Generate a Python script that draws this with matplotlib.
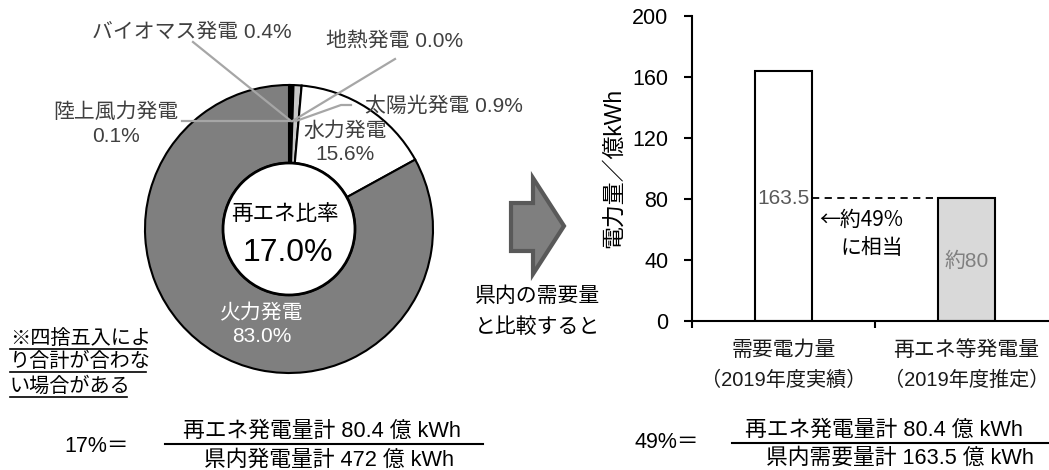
import numpy as np
import matplotlib
matplotlib.use('Agg')
import matplotlib.pyplot as plt
import matplotlib.transforms as mtransforms
from matplotlib.patches import Circle, Polygon

plt.rcParams['font.family'] = ['Liberation Sans', 'Noto Sans CJK JP', 'DejaVu Sans']

# data
pie_names = ['陸上風力発電', 'バイオマス発電', '地熱発電', '太陽光発電', '水力発電', '火力発電']
pie_values = [0.1, 0.4, 0.0, 0.9, 15.6, 83.0]
pie_colors = ['#1a1a1a', '#000000', '#404040', '#c8c8c8', '#ffffff', '#7f7f7f']
renew_share = 17.0

bar_names = ['需要電力量', '再エネ等発電量']
bar_notes = ['（2019年度実績）', '（2019年度推定）']
bar_values = [163.5, 80.4]
bar_colors = ['#ffffff', '#d9d9d9']
bar_texts = ['163.5', '約80']
yticks = [0, 40, 80, 120, 160, 200]

W, H = 1049, 470
fig = plt.figure(figsize=(W / 100, H / 100), dpi=100)

# ---- donut (pixel units) ----
cx, cy, R, r_in = 289, 229, 144, 66
pax = fig.add_axes([(cx - 150) / W, 1 - (cy + 150) / H, 300 / W, 300 / H], zorder=1)
pax.pie(pie_values, radius=R, startangle=90, counterclock=False, colors=pie_colors,
        wedgeprops=dict(width=R - r_in, edgecolor='black', linewidth=1.5))
pax.add_patch(Circle((0, 0), r_in, facecolor='white', edgecolor='black', linewidth=2, zorder=5))
pax.set_xlim(-150, 150)
pax.set_ylim(-150, 150)
pax.set_aspect('equal')
pax.axis('off')

# ---- bar chart ----
x0, x1, y0, y200 = 692, 1058, 321, 15.7
bax = fig.add_axes([x0 / W, 1 - y0 / H, (x1 - x0) / W, (y0 - y200) / H], zorder=2)
bw = 0.31
xs = np.arange(len(bar_values))
bax.bar(xs, bar_values, width=bw, color=bar_colors, edgecolor='black', linewidth=1.5)
bax.set_xlim(-0.5, 1.5)
bax.set_ylim(0, 200)
bax.set_yticks(yticks)
bax.set_xticks([-0.5, 0.5, 1.5])
bax.set_xticklabels([])
bax.tick_params(axis='x', length=5, width=1.5, direction='out')
bax.tick_params(axis='y', length=6, width=1.5, direction='out', labelsize=15.5, pad=11)
for s in ['top', 'right']:
    bax.spines[s].set_visible(False)
for s in ['left', 'bottom']:
    bax.spines[s].set_linewidth(1.5)
bax.set_facecolor('none')

# category labels below the axis
btr = mtransforms.blended_transform_factory(bax.transData, bax.transAxes)
for x, name, sub in zip(xs, bar_names, bar_notes):
    bax.text(x, -0.095, name, transform=btr, ha='center', va='center', fontsize=15, color='#1a1a1a')
    bax.text(x, -0.193, sub, transform=btr, ha='center', va='center', fontsize=14.5, color='#1a1a1a')

bax.plot([xs[0] + bw / 2, xs[1] - bw / 2], [bar_values[1], bar_values[1]],
         color='black', linestyle=(0, (4, 3)), linewidth=1.3)
bax.text(xs[0] + bw / 2 - 0.01, 80, bar_texts[0], ha='right', va='center',
         fontsize=15, color='#595959')
bax.text(xs[1], 39, bar_texts[1], ha='center', va='center', fontsize=15, color='#808080')
bax.text(0.653, 57, '←約49%\nに相当', ha='right', va='center', fontsize=15,
         linespacing=1.4, multialignment='right',
         family=['Noto Sans CJK JP', 'DejaVu Sans'])

# ---- overlay in pixel coords ----
ov = fig.add_axes([0, 0, 1, 1], zorder=3)
ov.set_xlim(0, W)
ov.set_ylim(H, 0)
ov.axis('off')
ov.patch.set_alpha(0)

# leader lines from small slices
cum = np.cumsum([0] + pie_values)
mids = (cum[:-1] + cum[1:]) / 2 * 3.6  # degrees clockwise from top
lead_r = 108
ends = [(182, 121), (193, 42), (395, 59), (351, 105)]
for i, (ex, ey) in enumerate(ends):
    a = np.deg2rad(mids[i])
    px, py = cx + lead_r * np.sin(a), cy - lead_r * np.cos(a)
    if i == 3:
        ov.plot([ex, ex - 10, px], [ey, ey, py], color='#a6a6a6', lw=1.6)
    else:
        ov.plot([ex, px], [ey, py], color='#a6a6a6', lw=1.6)

lab = '#404040'
fs = 15
ov.text(192, 32, f'{pie_names[1]} {pie_values[1]:.1f}%', ha='center', va='center', fontsize=fs, color=lab)
ov.text(395, 41, f'{pie_names[2]} {pie_values[2]:.1f}%', ha='center', va='center', fontsize=fs, color=lab)
ov.text(444, 106, f'{pie_names[3]} {pie_values[3]:.1f}%', ha='center', va='center', fontsize=fs, color=lab)
ov.text(116, 124, f'{pie_names[0]}\n{pie_values[0]:.1f}%', ha='center', va='center', fontsize=fs,
        color=lab, linespacing=1.3)
ov.text(345, 143, f'{pie_names[4]}\n{pie_values[4]:.1f}%', ha='center', va='center', fontsize=fs,
        color=lab, linespacing=1.25)
ov.text(262, 325, f'{pie_names[5]}\n{pie_values[5]:.1f}%', ha='center', va='center', fontsize=fs,
        color='white', linespacing=1.2)
ov.text(285, 215, '再エネ比率', ha='center', va='center', fontsize=15.5, color='black')
ov.text(288, 253, f'{renew_share:.1f}%', ha='center', va='center', fontsize=23, color='black')

# note
note = ['※四捨五入によ', 'り合計が合わな', 'い場合がある']
note_y = [338, 361, 386]
note_w = [136, 136, 117]
for t, y, w in zip(note, note_y, note_w):
    ov.text(10, y, t, ha='left', va='center', fontsize=14.5, color='black')
    ov.plot([10, 10 + w], [y + 11, y + 11], color='black', lw=1.2)

# arrow between charts
arrow = Polygon([(511, 203), (533, 203), (533, 178), (564, 226), (533, 274), (533, 251), (511, 251)],
                closed=True, facecolor='#7f7f7f', edgecolor='#595959', linewidth=3)
ov.add_patch(arrow)
ov.text(475, 296, '県内の需要量', ha='left', va='center', fontsize=15)
ov.text(475, 327, 'と比較すると', ha='left', va='center', fontsize=15)

ov.text(613, 168, '電力量／億kWh', ha='center', va='center', rotation=90, fontsize=16.5)

# formulas
ov.text(97, 447, '17%＝', ha='center', va='center', fontsize=15.5)
ov.plot([165, 483], [444, 444], color='black', lw=1.5)
ov.text(322, 431, '再エネ発電量計 80.4 億 kWh', ha='center', va='center', fontsize=15.7)
ov.text(329, 460, '県内発電量計 472 億 kWh', ha='center', va='center', fontsize=15.7)

ov.text(667, 442, '49%＝', ha='center', va='center', fontsize=15.5)
ov.plot([732, W], [443, 443], color='black', lw=1.5)
ov.text(884, 430, '再エネ発電量計 80.4 億 kWh', ha='center', va='center', fontsize=15.7)
ov.text(900, 458, '県内需要量計 163.5 億 kWh', ha='center', va='center', fontsize=15.7)

fig.savefig('out.png', dpi=100)
